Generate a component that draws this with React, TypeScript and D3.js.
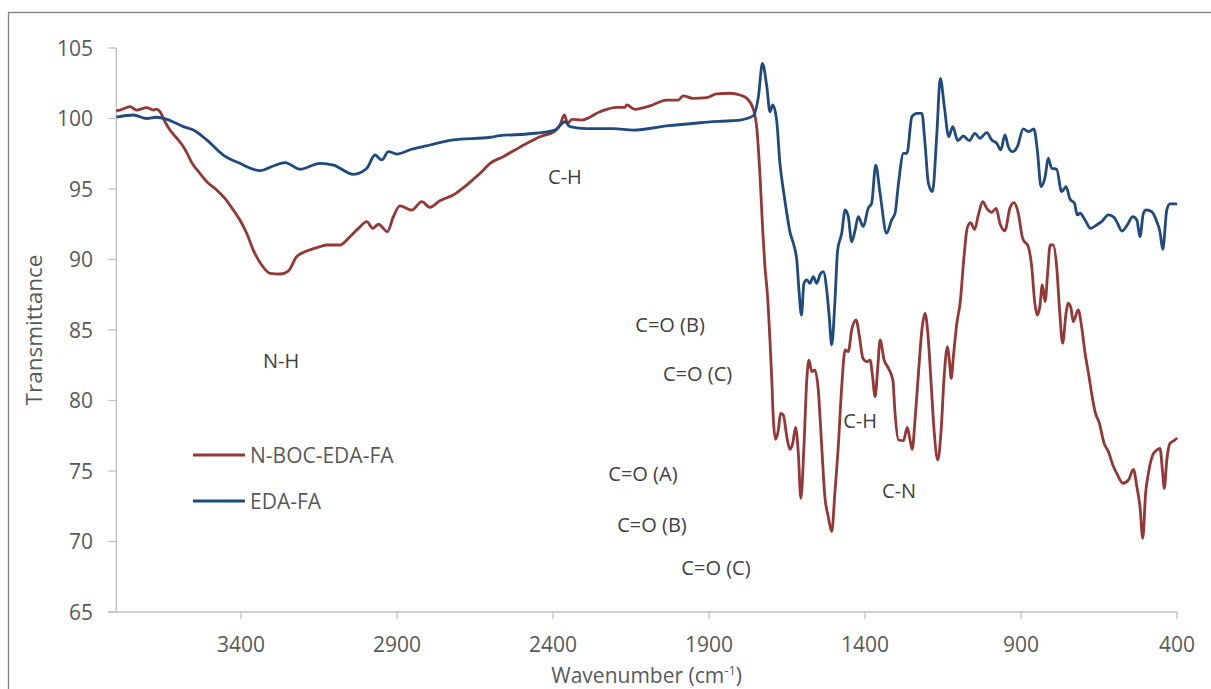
import React from "react";
import * as d3 from "d3";

// FTIR spectra: [wavenumber (cm-1), transmittance]
const nBocEdaFa: [number, number][] = [
  [3800,100.55],[3788,100.6],[3756,100.84],[3735,100.6],[3703,100.77],[3681,100.6],[3671,100.67],[3660,100.48],
  [3644,99.77],[3628,99.18],[3606,98.6],[3585,98.0],[3574,97.58],[3558,96.87],[3532,96.11],[3510,95.52],
  [3478,94.93],[3452,94.34],[3425,93.51],[3404,92.8],[3382,91.86],[3361,90.67],[3334,89.61],[3307,89.02],
  [3275,88.97],[3249,89.18],[3222,90.2],[3190,90.6],[3147,90.91],[3126,91.03],[3083,91.03],[3051,91.62],
  [3024,92.21],[2997,92.68],[2978,92.21],[2960,92.5],[2931,91.97],[2912,93.04],[2891,93.8],[2853,93.51],
  [2821,94.1],[2795,93.7],[2763,94.17],[2720,94.57],[2677,95.28],[2634,96.11],[2602,96.82],[2560,97.29],
  [2522,97.77],[2484,98.24],[2442,98.71],[2394,99.11],[2378,99.54],[2364,100.25],[2353,99.66],[2340,99.94],
  [2308,99.89],[2250,100.48],[2196,100.79],[2170,100.79],[2164,100.96],[2138,100.65],[2090,100.89],[2036,101.31],
  [1999,101.31],[1983,101.6],[1951,101.43],[1908,101.48],[1876,101.74],[1833,101.79],[1801,101.67],[1779,101.43],
  [1758,100.65],[1747,99.3],[1737,96.0],[1728,92.0],[1721,89.5],[1713,87.5],[1705,84.3],[1699,81.45],
  [1694,78.62],[1687,77.25],[1678,77.91],[1671,79.09],[1662,78.97],[1651,77.43],[1641,76.54],[1632,76.96],
  [1623,78.1],[1614,76.26],[1606,73.06],[1596,76.72],[1587,81.45],[1580,82.87],[1571,82.04],[1561,82.16],
  [1550,80.74],[1539,76.72],[1529,73.18],[1518,71.76],[1507,70.7],[1497,73.42],[1486,76.72],[1475,80.98],
  [1464,83.58],[1454,83.46],[1443,85.0],[1429,85.71],[1418,84.52],[1407,82.99],[1394,82.75],[1384,82.87],
  [1376,81.69],[1368,80.27],[1360,82.16],[1352,84.29],[1339,82.87],[1325,82.28],[1311,81.45],[1304,79.09],
  [1293,77.2],[1277,77.15],[1265,78.1],[1256,77.2],[1249,76.54],[1240,78.62],[1229,81.93],[1218,85.0],
  [1208,86.18],[1199,84.77],[1189,81.45],[1179,77.91],[1167,75.78],[1157,77.67],[1146,81.93],[1136,83.82],
  [1130,82.87],[1124,81.57],[1117,83.11],[1106,85.47],[1095,87.0],[1083,90.2],[1073,92.21],[1062,92.61],
  [1049,92.14],[1037,93.16],[1023,94.1],[1010,93.63],[994,93.35],[980,93.63],[968,92.57],[952,92.04],
  [936,93.63],[923,94.03],[909,93.28],[895,91.5],[877,90.91],[866,89.49],[856,86.9],[848,86.06],
  [840,86.65],[832,88.19],[823,87.01],[815,89.02],[807,91.03],[797,91.03],[786,89.49],[776,86.18],
  [767,84.06],[756,86.18],[749,86.9],[740,86.54],[733,85.59],[717,86.42],[706,85.24],[695,83.35],
  [684,81.93],[674,80.51],[663,79.21],[649,78.38],[634,76.96],[620,76.37],[606,75.43],[591,74.72],
  [574,74.13],[556,74.36],[540,75.12],[529,73.89],[519,72.47],[510,70.23],[501,73.42],[492,74.84],
  [478,76.13],[465,76.49],[455,76.61],[447,75.07],[441,73.77],[433,75.78],[423,76.96],[407,77.2],[400,77.35],
];

const edaFa: [number, number][] = [
  [3800,100.09],[3745,100.25],[3703,100.0],[3671,100.09],[3638,99.94],[3585,99.42],[3553,99.18],[3510,98.48],
  [3457,97.41],[3404,96.82],[3339,96.3],[3297,96.63],[3259,96.87],[3211,96.4],[3147,96.82],[3104,96.7],
  [3040,96.04],[2997,96.47],[2971,97.41],[2949,97.06],[2928,97.65],[2901,97.48],[2853,97.82],[2795,98.12],
  [2720,98.48],[2602,98.67],[2570,98.78],[2484,98.9],[2394,99.18],[2362,99.77],[2346,99.42],[2292,99.28],
  [2207,99.28],[2143,99.18],[2036,99.47],[1929,99.7],[1833,99.84],[1800,99.89],[1758,100.2],[1742,101.55],
  [1729,103.9],[1715,102.26],[1705,100.48],[1696,100.96],[1683,99.77],[1673,96.82],[1662,94.93],[1651,93.28],
  [1641,91.97],[1630,91.15],[1619,89.96],[1612,87.84],[1604,86.06],[1596,88.31],[1587,88.55],[1577,88.31],
  [1566,88.78],[1555,88.31],[1545,88.9],[1534,89.14],[1523,87.84],[1515,85.95],[1507,83.94],[1497,86.9],
  [1488,90.67],[1475,91.86],[1464,93.51],[1454,93.04],[1443,91.26],[1432,92.09],[1422,93.04],[1406,92.33],
  [1390,93.63],[1379,93.99],[1366,96.7],[1352,94.69],[1331,91.86],[1315,92.8],[1304,93.28],[1293,95.4],
  [1277,97.53],[1266,97.53],[1250,100.13],[1234,100.37],[1218,100.37],[1208,98.24],[1197,95.4],[1184,94.81],
  [1170,98.95],[1159,102.85],[1146,100.84],[1132,98.71],[1119,99.42],[1103,98.43],[1085,98.76],[1066,98.43],
  [1048,98.95],[1032,98.6],[1010,99.0],[994,98.48],[978,98.24],[965,97.77],[952,98.83],[941,98.0],
  [928,97.65],[912,98.0],[893,99.26],[877,99.07],[859,99.26],[848,97.77],[836,95.16],[823,95.87],
  [813,97.18],[802,96.47],[786,96.4],[770,94.81],[756,95.16],[743,94.27],[729,93.99],[720,93.16],
  [711,93.28],[695,92.8],[677,92.21],[658,92.45],[642,92.68],[620,93.16],[602,92.99],[591,92.57],
  [577,92.02],[561,92.4],[542,93.04],[529,92.8],[519,91.62],[508,93.28],[499,93.51],[481,93.39],
  [465,92.68],[455,91.97],[446,90.72],[433,93.51],[423,93.94],[400,93.94],
];

const xTicks = [3400, 2900, 2400, 1900, 1400, 900, 400];
const yTicks = [65, 70, 75, 80, 85, 90, 95, 100, 105];

// Band assignments placed in data space: [label, wavenumber, transmittance]
const bandLabels: [string, number, number][] = [
  ["N-H", 3272, 82.8],
  ["C-H", 2362, 95.85],
  ["C=O (B)", 2025, 85.35],
  ["C=O (C)", 1937, 81.88],
  ["C=O (A)", 2112, 74.79],
  ["C=O (B)", 2083, 71.17],
  ["C=O (C)", 1878, 68.12],
  ["C-H", 1416, 78.55],
  ["C-N", 1291, 73.58],
];

const seriesNames = ["N-BOC-EDA-FA", "EDA-FA"];
const seriesColors = ["#953735", "#1f4a80"];

const FONT = "'Open Sans', 'Noto Sans', sans-serif";
const TEXT = "#595959";

export default function App() {
  const W = 1211;
  const H = 689;
  const x = d3.scaleLinear().domain([3800, 400]).range([116.3, 1177.1]);
  const y = d3.scaleLinear().domain([65, 105]).range([612, 48]);
  const line = d3
    .line<[number, number]>()
    .x((d) => x(d[0]))
    .y((d) => y(d[1]))
    .curve(d3.curveMonotoneX);

  const series = [nBocEdaFa, edaFa];
  const x0 = x.range()[0];
  const x1 = x.range()[1];
  const yBase = y(65);

  return (
    <svg
      width={W}
      height={H}
      style={{ position: "absolute", left: 0, top: 0, background: "#fff" }}
      fontFamily={FONT}
    >
      <rect x={0} y={0} width={W} height={H} fill="#fff" />
      <rect x={8.5} y={12.5} width={1400} height={900} fill="none" stroke="#7f7f7f" strokeWidth={1.3} />

      {/* y axis */}
      <line x1={x0} x2={x0} y1={y(105)} y2={yBase} stroke="#bfbfbf" strokeWidth={1.3} />
      {yTicks.map((t) => (
        <g key={"y" + t}>
          <line x1={x0 - 8} x2={x0} y1={y(t)} y2={y(t)} stroke="#bfbfbf" strokeWidth={1.3} />
          <text x={93} y={y(t)} dy="0.36em" textAnchor="end" fontSize={21} fill={TEXT}>
            {t}
          </text>
        </g>
      ))}

      {/* x axis */}
      <line x1={x0 - 8} x2={x1} y1={yBase} y2={yBase} stroke="#bfbfbf" strokeWidth={1.3} />
      {xTicks.map((t) => (
        <g key={"x" + t}>
          <line x1={x(t)} x2={x(t)} y1={yBase} y2={yBase + 7} stroke="#bfbfbf" strokeWidth={1.3} />
          <text x={x(t)} y={652} textAnchor="middle" fontSize={21} fill={TEXT}>
            {t}
          </text>
        </g>
      ))}

      <text x={(x0 + x1) / 2} y={683} textAnchor="middle" fontSize={21} fill={TEXT}>
        Wavenumber (cm
        <tspan dy={-8} fontSize={13}>-1</tspan>
        <tspan dy={8}>)</tspan>
      </text>
      <text
        transform={`translate(42, ${(y(105) + yBase) / 2}) rotate(-90)`}
        textAnchor="middle"
        fontSize={22.5}
        fill={TEXT}
      >
        Transmittance
      </text>

      {/* spectra */}
      {series.map((s, i) => (
        <path
          key={seriesNames[i]}
          d={line(s) || ""}
          fill="none"
          stroke={seriesColors[i]}
          strokeWidth={2.8}
          strokeLinejoin="round"
        />
      ))}

      {/* band labels */}
      {bandLabels.map(([label, wn, t], i) => (
        <text
          key={"b" + i}
          x={x(wn)}
          y={y(t)}
          dy="0.35em"
          textAnchor="middle"
          fontSize={20}
          fill="#404040"
        >
          {label}
        </text>
      ))}

      {/* legend */}
      {seriesNames.map((name, i) => (
        <g key={"lg" + i}>
          <line
            x1={193}
            x2={245}
            y1={455 + i * 46}
            y2={455 + i * 46}
            stroke={seriesColors[i]}
            strokeWidth={2.8}
          />
          <text x={250} y={455 + i * 46} dy="0.36em" fontSize={21} fill={TEXT}>
            {name}
          </text>
        </g>
      ))}
    </svg>
  );
}
